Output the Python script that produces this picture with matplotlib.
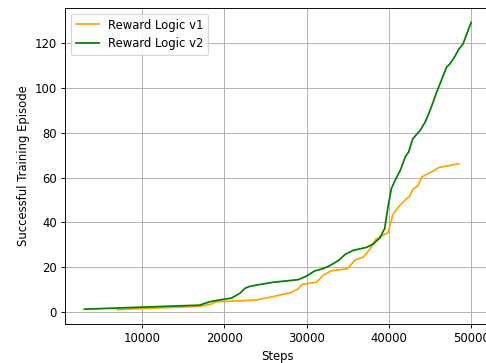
import matplotlib
matplotlib.use("Agg")
import matplotlib.pyplot as plt

v1_steps = [7000, 17000, 18400, 19000, 23900, 25900, 28000, 29000, 29400, 31200,
            32000, 33000, 35000, 35900, 36900, 37700, 38400, 39900, 40500, 41200,
            42200, 42500, 43000, 43500, 44000, 45600, 46000, 48500]
v1_vals = [1.0, 2.5, 3.4, 4.5, 5.3, 6.8, 8.5, 10.3, 12.2, 13.2,
           16.3, 18.3, 19.3, 23.2, 24.4, 28.1, 32.4, 35.4, 43.5, 47.0,
           50.7, 51.4, 55.1, 56.1, 60.3, 63.3, 64.4, 66.2]

v2_steps = [3000, 17000, 17800, 18600, 20900, 21900, 22500, 23100, 24300, 25900,
            29000, 30000, 31000, 32000, 32800, 33900, 34700, 35700, 37300, 38100,
            38900, 39500, 39900, 40300, 40800, 41400, 42000, 42400, 42900, 43800,
            44400, 45000, 45800, 47000, 47400, 47900, 48500, 49000, 50000]
v2_vals = [1.2, 3.0, 4.0, 4.8, 6.2, 8.3, 10.5, 11.4, 12.2, 13.2,
           14.4, 16.0, 18.3, 19.3, 20.6, 23.0, 25.7, 27.5, 28.8, 30.3,
           33.0, 37.3, 47.0, 55.0, 59.0, 63.3, 69.2, 71.4, 77.3, 81.0,
           84.7, 89.9, 98.0, 109.2, 110.7, 113.3, 117.3, 119.6, 129.3]

DPI = 84
fig = plt.figure(figsize=(486/DPI, 363/DPI), dpi=DPI)
ax = fig.add_axes([65/486, 39/363, 425.5/486, 316/363])
ax.plot(v1_steps, v1_vals, color="orange", label="Reward Logic v1")
ax.plot(v2_steps, v2_vals, color="green", label="Reward Logic v2")
ax.set_xlabel("Steps")
ax.set_ylabel("Successful Training Episode")
ax.grid(True)
ax.legend(loc="upper left")
fig.savefig("out.png", dpi=DPI)
